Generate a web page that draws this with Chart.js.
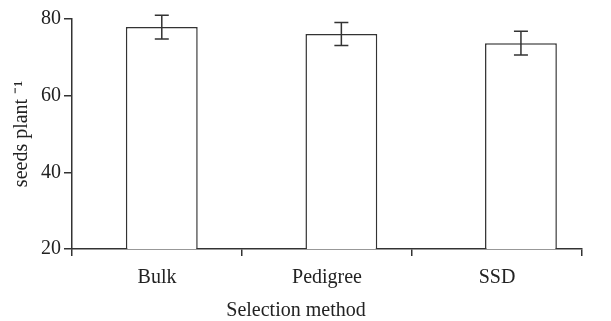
<!DOCTYPE html>
<html>
<head>
<meta charset="utf-8">
<script src="https://cdn.jsdelivr.net/npm/chart.js@4"></script>
<style>
  html, body { margin: 0; padding: 0; background: #fff; }
  #wrap { width: 611px; height: 321px; }
</style>
</head>
<body>
<div id="wrap"><canvas id="myChart"></canvas></div>
<script>
// Data
const categories = ["Bulk", "Pedigree", "SSD"];
const seedsPerPlant = [77.9, 76.1, 73.7];
const seedsError = [3.1, 3.0, 3.1];
const yTicks = [20, 40, 60, 80];

const ink = '#333';
const serif = 'Liberation Serif, Times New Roman, serif';

// error bars drawn on top of the bars
const errorBars = {
  id: 'errorBars',
  afterDatasetsDraw(chart) {
    const meta = chart.getDatasetMeta(0);
    const y = chart.scales.y;
    const ctx = chart.ctx;
    ctx.save();
    ctx.strokeStyle = ink;
    ctx.lineWidth = 1.5;
    meta.data.forEach((bar, i) => {
      const top = y.getPixelForValue(seedsPerPlant[i] + seedsError[i]);
      const bottom = y.getPixelForValue(seedsPerPlant[i] - seedsError[i]);
      const x = bar.x;
      ctx.beginPath();
      ctx.moveTo(x, top); ctx.lineTo(x, bottom);
      ctx.moveTo(x - 7, top); ctx.lineTo(x + 7, top);
      ctx.moveTo(x - 7, bottom); ctx.lineTo(x + 7, bottom);
      ctx.stroke();
    });
    ctx.restore();
  }
};

Chart.defaults.font.family = serif;
Chart.defaults.font.size = 20;
Chart.defaults.color = '#222';

const ctx = document.getElementById('myChart').getContext('2d');
const myChart = new Chart(ctx, {
  type: 'bar',
  data: {
    datasets: [{
      label: 'seeds plant -1',
      data: seedsPerPlant.map((v, i) => ({ x: i, y: v })),
      backgroundColor: '#fff',
      borderColor: ink,
      borderWidth: 1.5,
      categoryPercentage: 1,
      barPercentage: 0.4,
      xAxisID: 'x'
    }]
  },
  options: {
    responsive: true,
    maintainAspectRatio: false,
    animation: false,
    layout: { padding: { top: 19, right: 29, left: 10, bottom: 0 } },
    plugins: {
      legend: { display: false },
      tooltip: { enabled: false },
      title: {
        display: true,
        position: 'bottom',
        text: 'Selection method',
        color: '#222',
        font: { size: 20, weight: 'normal', lineHeight: 1 },
        padding: { top: 1, bottom: 0 }
      }
    },
    scales: {
      // hidden axis that places the bars
      x: {
        type: 'linear',
        display: false,
        offset: false,
        min: -0.5,
        max: 2.34,
        afterBuildTicks: (axis) => { axis.ticks = categories.map((c, i) => ({ value: i })); }
      },
      // visible axis with the category names
      x2: {
        type: 'category',
        position: 'bottom',
        labels: categories,
        offset: true,
        border: { display: true, color: ink, width: 1.5 },
        grid: { offset: true, drawOnChartArea: false, drawTicks: true, tickLength: 7, color: ink, lineWidth: 1.5 },
        ticks: { padding: 10, font: { size: 20 } }
      },
      y: {
        min: 20,
        max: 80,
        afterBuildTicks: (axis) => { axis.ticks = yTicks.map(v => ({ value: v })); },
        border: { display: true, color: ink, width: 1.5 },
        grid: { drawOnChartArea: false, drawTicks: true, tickLength: 8, color: ink, lineWidth: 1.5 },
        ticks: { padding: 3, font: { size: 20 } },
        title: {
          display: true,
          text: 'seeds plant \u207B\u00B9',
          font: { size: 20 },
          padding: { top: 0, bottom: 4 }
        }
      }
    }
  },
  plugins: [errorBars]
});
</script>
</body>
</html>
